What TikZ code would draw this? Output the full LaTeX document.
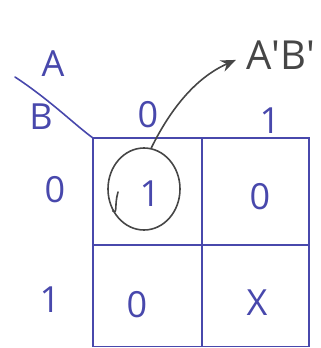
\documentclass[tikz,border=0pt]{standalone}
\usepackage{fontspec}
\setmainfont{Open Sans}
\usetikzlibrary{shapes.geometric,arrows.meta}
\definecolor{penblue}{RGB}{72,72,172}
\definecolor{pengray}{RGB}{70,70,70}
\begin{document}
\begin{tikzpicture}[x=1pt,y=-1pt,
  cell/.style={draw=penblue,line width=1.8pt,minimum width=#1,inner sep=0pt,outer sep=0pt},
  bluetxt/.style={text=penblue,font=\fontsize{36}{38}\selectfont},
  ]
\useasboundingbox (0,0) rectangle (321,348);
% cells
\node[cell=109pt,minimum height=107pt] (c00) at (147.5,191.5) {};
\node[cell=107pt,minimum height=107pt] (c10) at (255.5,191.5) {};
\node[cell=109pt,minimum height=101pt] (c01) at (147.5,296) {};
\node[cell=107pt,minimum height=101pt] (c11) at (255.5,296) {};
% cell values
\node[bluetxt] (v00) at (150,194) {1};
\node[bluetxt] (v10) at (260,197) {0};
\node[bluetxt] (v01) at (137,305) {0};
\node[bluetxt] (v11) at (257,303) {X};
% axis labels
\node[bluetxt] (la) at (53,64) {A};
\node[bluetxt] (lb) at (41,117) {B};
\node[bluetxt] (col0) at (148,115) {0};
\node[bluetxt] (col1) at (270,121) {1};
\node[bluetxt] (row0) at (55,190) {0};
\node[bluetxt] (row1) at (50,300) {1};
\coordinate (dstart) at (15,77);
\draw[penblue,line width=1.6pt,line cap=round] (dstart) .. controls (50,100) and (75,125) .. (c00.north west);
% circle and arrow
\node[draw=pengray,line width=1.6pt,ellipse,minimum width=72pt,minimum height=82pt,inner sep=0pt] (ring) at (144,189) {};
\coordinate (tail) at (118,192);
\draw[pengray,line width=1.6pt,line cap=round] (tail) .. controls (114,206) and (118,214) .. (ring.215);
\node[text=pengray,font=\fontsize{40}{42}\selectfont,anchor=south west,inner sep=0pt] (lab) at (246,70) {A\textquotesingle B\textquotesingle};
\draw[pengray,line width=1.6pt,-{Stealth[length=15pt,width=12pt]},shorten >=11pt] (ring.80) .. controls (170,110) and (195,78) .. (lab.west);
\end{tikzpicture}
\end{document}
